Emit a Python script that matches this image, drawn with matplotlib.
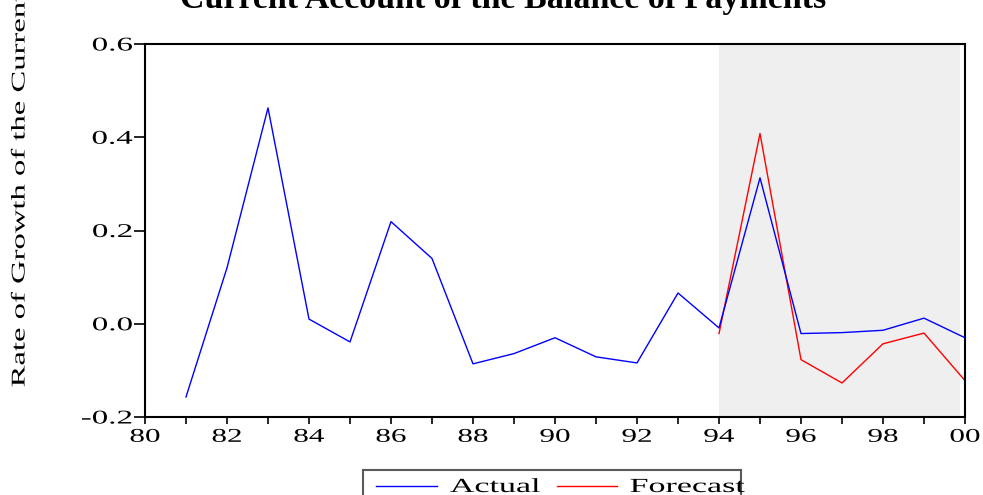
import matplotlib
matplotlib.use("Agg")
import matplotlib.pyplot as plt
from matplotlib.ticker import FixedLocator, FuncFormatter
from matplotlib.lines import Line2D
from matplotlib.patches import Rectangle
from matplotlib.patheffects import AbstractPathEffect
from matplotlib.transforms import Affine2D

plt.rcParams['font.family'] = ['Liberation Serif', 'DejaVu Serif']

# Annual observations, 1981-2000 (two-digit year labels)
years_actual = [1981, 1982, 1983, 1984, 1985, 1986, 1987, 1988, 1989, 1990,
                1991, 1992, 1993, 1994, 1995, 1996, 1997, 1998, 1999, 2000]
actual = [-0.157, 0.120, 0.463, 0.010, -0.039, 0.219, 0.140, -0.086, -0.064, -0.030,
          -0.071, -0.084, 0.066, -0.009, 0.313, -0.021, -0.019, -0.014, 0.012, -0.030]

years_forecast = [1994, 1995, 1996, 1997, 1998, 1999, 2000]
forecast = [-0.021, 0.408, -0.077, -0.127, -0.043, -0.020, -0.122]

x_tick_years = list(range(1980, 2001, 2))
y_ticks = [-0.2, 0.0, 0.2, 0.4, 0.6]
series_names = ["Actual", "Forecast"]


class Stretch(AbstractPathEffect):
    """Draw text glyphs widened horizontally about a chosen anchor."""

    def __init__(self, sx, anchor='center'):
        super().__init__()
        self.sx = sx
        self.anchor = anchor

    def draw_path(self, renderer, gc, tpath, affine, rgbFace=None):
        ext = tpath.get_extents()
        if self.anchor == 'center':
            cx = (ext.x0 + ext.x1) / 2
        elif self.anchor == 'right':
            cx = ext.x1
        else:
            cx = ext.x0
        t = Affine2D().translate(-cx, 0).scale(self.sx, 1).translate(cx, 0) + affine
        renderer.draw_path(gc, tpath, t, rgbFace)


W, H = 983, 495
fig = plt.figure(figsize=(W / 100, H / 100), dpi=100)
ax = fig.add_axes([145 / W, 1 - 417 / H, 820 / W, 373 / H])

# forecast period shading
ax.axvspan(1994, 1999.88, facecolor='#efefef', edgecolor='none', zorder=0)

ax.plot(years_actual, actual, color='#0000ff', lw=1.0, zorder=3)
ax.plot(years_forecast, forecast, color='#ff0000', lw=1.0, zorder=2)

ax.set_xlim(1980, 2000)
ax.set_ylim(-0.2, 0.6)

ax.xaxis.set_major_locator(FixedLocator(x_tick_years))
ax.xaxis.set_minor_locator(FixedLocator(list(range(1980, 2001))))
ax.xaxis.set_major_formatter(FuncFormatter(lambda v, p: f"{int(round(v)) % 100:02d}"))
ax.yaxis.set_major_locator(FixedLocator(y_ticks))
ax.yaxis.set_major_formatter(FuncFormatter(lambda v, p: f"{v:.1f}"))

ax.tick_params(axis='x', which='both', direction='out', length=5, width=1.2,
               labelsize=14, pad=3.5)
ax.tick_params(axis='y', which='major', direction='out', length=8, width=1.2,
               labelsize=14, pad=1)
for s in ax.spines.values():
    s.set_linewidth(1.5)
    s.set_color('black')

fig.text(503 / W, 1 - 8 / H, "Current Account of the Balance of Payments",
         ha='center', va='baseline', fontsize=24.5, fontweight='bold')

ylab = fig.text(20 / W, 1 - 387 / H, "Rate of Growth of the Current Account",
                rotation=90, ha='center', va='bottom', fontsize=14)
ylab.set_path_effects([Stretch(1.68, 'left')])

# legend box, drawn in figure pixels
fig.add_artist(Rectangle((363 / W, -0.05), (741 - 363) / W, 0.05 + 1 - 470 / H,
                         transform=fig.transFigure, facecolor='white',
                         edgecolor='#5a5a5a', lw=1.5))
for (x0, x1, tx), name, col in zip([(376, 437, 450), (557, 617, 630)],
                                   series_names, ['#0000ff', '#ff0000']):
    fig.add_artist(Line2D([x0 / W, x1 / W], [1 - 486 / H] * 2,
                          transform=fig.transFigure, color=col, lw=1.0))
    t = fig.text(tx / W, 1 - 492 / H, name, ha='left', va='baseline', fontsize=14.4)
    t.set_path_effects([Stretch(1.7, 'left')])

fig.canvas.draw()
for tk in ax.xaxis.get_major_ticks():
    tk.label1.set_path_effects([Stretch(1.6, 'center')])
for tk in ax.yaxis.get_major_ticks():
    tk.label1.set_path_effects([Stretch(1.7, 'right')])

fig.savefig("out.png", dpi=100)
